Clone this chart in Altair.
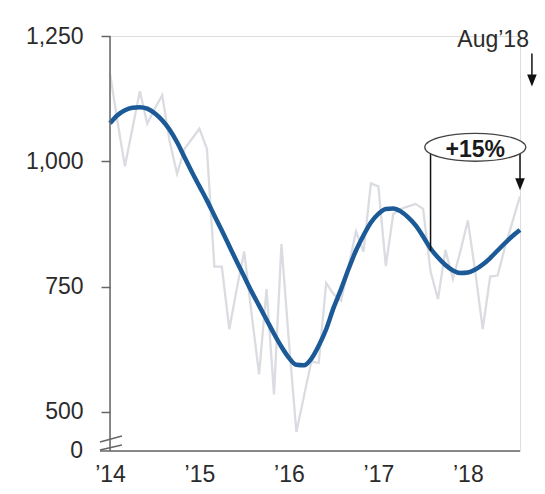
import altair as alt
import pandas as pd

# ---- data (monthly, Jan 2014 = 0 ... Aug 2018 = 55)
MONTHS = list(range(56))
RAW = [1175, 1080, 990, 1065, 1140, 1075, 1105, 1132, 1040, 975,
       1025, 1045, 1065, 1025, 790, 790, 665, 745, 820, 695,
       575, 745, 535, 835, 640, 460, 530, 600, 598, 757,
       735, 722, 790, 860, 820, 956, 950, 791, 895, 905,
       910, 915, 905, 780, 725, 823, 765, 820, 882, 780,
       665, 770, 772, 830, 880, 930]
TREND = [1076, 1092, 1102, 1107, 1108, 1105, 1096, 1082, 1063, 1038,
         1008, 978, 950, 922, 892, 862, 831, 800, 770, 740,
         712, 684, 656, 630, 608, 594, 593, 606, 632, 665,
         708, 745, 785, 822, 852, 878, 895, 905, 906, 900,
         888, 872, 850, 826, 808, 793, 782, 777, 778, 784,
         794, 807, 822, 837, 851, 863]

X_TICKS = [0, 12, 24, 36, 48]
X_LABELS = ["\u201914", "\u201915", "\u201916", "\u201917", "\u201918"]
Y_TICKS = [500, 750, 1000, 1250]
Y_BOTTOM = 422          # value placed at the "0" position of the broken axis
Y_TOP = 1250
X_END = 55
ZERO_LABEL = "0"

PCT_TEXT = "+15%"
PCT_FROM_MONTH = 43
PCT_FROM_VALUE = 821
PCT_TO_MONTH = 55
PCT_BOX_MONTH = 49
PCT_BOX_VALUE = 1028
PCT_HEAD_VALUE = 954

AUG_TEXT = "Aug\u201918"
AUG_MONTH = 56.6
AUG_TEXT_VALUE = 1228
AUG_LINE_TOP = 1215
AUG_HEAD_VALUE = 1161

FONT = "Liberation Sans"
AXIS_COLOR = "#666666"
TEXT_COLOR = "#2b2b2b"

label_expr = " : ".join(
    f"datum.value == {m} ? '{lab}'" for m, lab in zip(X_TICKS, X_LABELS)
) + " : ''"

xscale = alt.Scale(domain=[0, X_END], nice=False, zero=False)
yscale = alt.Scale(domain=[Y_BOTTOM, Y_TOP], nice=False, zero=False)

X = lambda f="m": alt.X(f"{f}:Q", scale=xscale, title=None)
Y = lambda f="v": alt.Y(f"{f}:Q", scale=yscale, title=None)

series = pd.DataFrame({"m": MONTHS, "raw": RAW, "trend": TREND})

raw_line = alt.Chart(series).mark_line(color="#dadce1", strokeWidth=2.3).encode(
    x=alt.X("m:Q", scale=xscale, title=None,
            axis=alt.Axis(values=X_TICKS, labelExpr=label_expr, ticks=False,
                          domain=False, grid=False, labelFontSize=23,
                          labelFont=FONT, labelColor=TEXT_COLOR,
                          labelPadding=12, labelFlush=False,
                          labelOverlap=False, labelBound=False)),
    y=alt.Y("raw:Q", scale=yscale, title=None,
            axis=alt.Axis(values=Y_TICKS, format=",d", tickSize=9,
                          tickColor=AXIS_COLOR, tickWidth=1.5, domain=False,
                          grid=False, labelFontSize=23, labelFont=FONT,
                          labelColor=TEXT_COLOR, labelPadding=18,
                          labelFlush=False, labelOverlap=False)),
)

trend_line = alt.Chart(series).mark_line(
    color="#1b5a97", strokeWidth=4.5, interpolate="monotone"
).encode(x=X(), y=alt.Y("trend:Q", scale=yscale, title=None))

# axis lines
y_axis = alt.Chart(pd.DataFrame({"m": [0], "v": [Y_BOTTOM], "v2": [Y_TOP]})).mark_rule(
    color=AXIS_COLOR, strokeWidth=1.5
).encode(x=X(), y=Y(), y2="v2:Q")
x_axis = alt.Chart(pd.DataFrame({"m": [-1.34], "m2": [X_END], "v": [Y_BOTTOM]})).mark_rule(
    color=AXIS_COLOR, strokeWidth=1.5
).encode(x=X(), x2="m2:Q", y=Y())

# axis break marks
breaks = alt.Chart(pd.DataFrame({
    "m": [-1.34, -1.34], "m2": [1.6, 1.6],
    "v": [424, 440], "v2": [434, 452],
})).mark_rule(color=AXIS_COLOR, strokeWidth=1.5).encode(
    x=X(), x2="m2:Q", y=Y(), y2="v2:Q")

zero_label = alt.Chart(pd.DataFrame({"m": [0], "v": [Y_BOTTOM], "t": [ZERO_LABEL]})).mark_text(
    align="right", baseline="middle", dx=-27, fontSize=23, font=FONT, color=TEXT_COLOR
).encode(x=X(), y=Y(), text="t:N")

# +15% annotation
pct_lines = alt.Chart(pd.DataFrame({
    "m": [PCT_FROM_MONTH, PCT_TO_MONTH],
    "v": [PCT_FROM_VALUE, PCT_HEAD_VALUE],
    "v2": [PCT_BOX_VALUE, PCT_BOX_VALUE],
})).mark_rule(color="#111111", strokeWidth=1.5).encode(x=X(), y=Y(), y2="v2:Q")

ELLIPSE = ("M-1,0C-1,-0.153,-0.552,-0.277,0,-0.277C0.552,-0.277,1,-0.153,1,0"
           "C1,0.153,0.552,0.277,0,0.277C-0.552,0.277,-1,0.153,-1,0Z")
pct_box = alt.Chart(pd.DataFrame({"m": [PCT_BOX_MONTH], "v": [PCT_BOX_VALUE]})).mark_point(
    shape=ELLIPSE, size=10201, filled=True, fill="white", stroke="#444444",
    strokeWidth=1.3, opacity=1, fillOpacity=1
).encode(x=X(), y=Y())
pct_text = alt.Chart(pd.DataFrame({"m": [PCT_BOX_MONTH], "v": [PCT_BOX_VALUE], "t": [PCT_TEXT]})).mark_text(
    fontSize=23, fontWeight="bold", font=FONT, color="#1a1a1a", baseline="middle", dy=3
).encode(x=X(), y=Y(), text="t:N")

HEAD = "M-0.8,-1L0.8,-1L0,1Z"
heads = alt.Chart(pd.DataFrame({
    "m": [PCT_TO_MONTH, AUG_MONTH], "v": [PCT_HEAD_VALUE, AUG_HEAD_VALUE]
})).mark_point(shape=HEAD, size=144, filled=True, color="#111111", opacity=1).encode(
    x=X(), y=Y())

aug_line = alt.Chart(pd.DataFrame({"m": [AUG_MONTH], "v": [AUG_HEAD_VALUE], "v2": [AUG_LINE_TOP]})).mark_rule(
    color="#111111", strokeWidth=1.5
).encode(x=X(), y=Y(), y2="v2:Q")
aug_text = alt.Chart(pd.DataFrame({"m": [AUG_MONTH], "v": [AUG_TEXT_VALUE], "t": [AUG_TEXT]})).mark_text(
    align="right", baseline="alphabetic", dx=-3, fontSize=23, font=FONT, color=TEXT_COLOR
).encode(x=X(), y=Y(), text="t:N")

chart = alt.layer(
    raw_line, trend_line, y_axis, x_axis, breaks, zero_label,
    pct_lines, pct_box, pct_text, heads, aug_line, aug_text
).properties(
    width=410, height=415,
    autosize=alt.AutoSizeParams(type="none"),
    padding={"left": 102, "top": 28, "right": 17, "bottom": 35},
).configure_view(stroke=None).configure(background="white")

chart.save("out.html", embed_options={"renderer": "svg", "actions": False})
